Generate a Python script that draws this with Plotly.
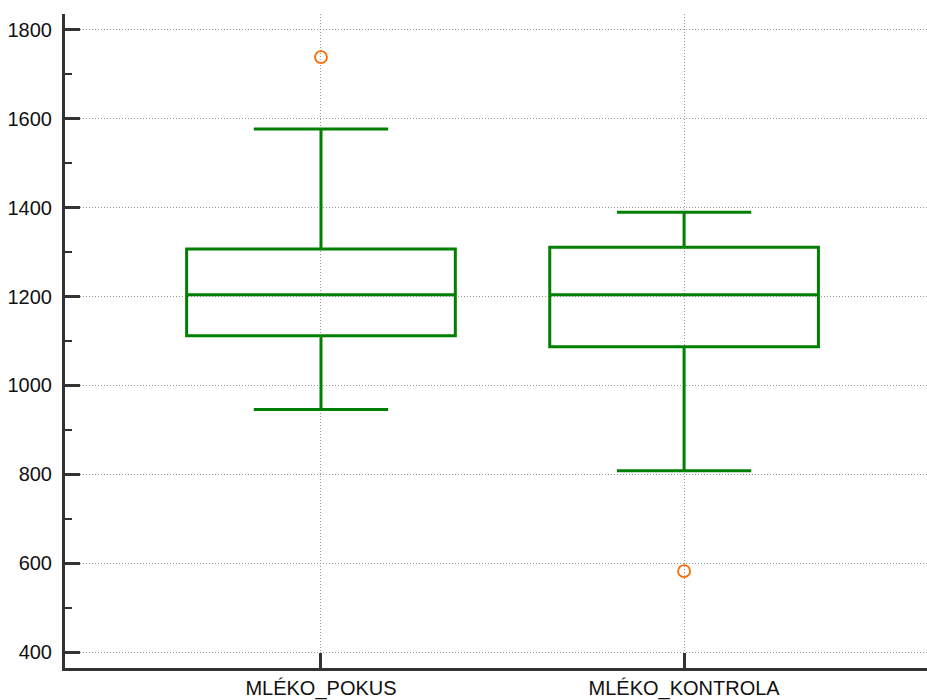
import plotly.graph_objects as go

categories = ["MLÉKO_POKUS", "MLÉKO_KONTROLA"]
q1 = [1112, 1087]
median = [1204, 1204]
q3 = [1307, 1311]
lower_whisker = [946, 808]
upper_whisker = [1577, 1390]
outlier_x = ["MLÉKO_POKUS", "MLÉKO_KONTROLA"]
outlier_y = [1739, 582]
y_ticks = [400, 600, 800, 1000, 1200, 1400, 1600, 1800]

fig = go.Figure()
fig.add_trace(go.Box(
    x=categories, q1=q1, median=median, q3=q3,
    lowerfence=lower_whisker, upperfence=upper_whisker,
    boxpoints=False, width=0.74, whiskerwidth=0.5,
    line=dict(color="#008000", width=3),
    fillcolor="rgba(0,0,0,0)", showlegend=False, hoverinfo="skip",
))
fig.add_trace(go.Scatter(
    x=outlier_x, y=outlier_y, mode="markers",
    marker=dict(symbol="circle-open", size=12, color="#ff6a00", line=dict(width=1.8)),
    showlegend=False,
))

axis_font = dict(family="Liberation Sans, Arial, sans-serif", size=20, color="#111")
fig.update_layout(
    width=927, height=700,
    margin=dict(l=65, r=0, t=14, b=30),
    plot_bgcolor="white", paper_bgcolor="white",
    font=axis_font,
    xaxis=dict(
        type="category", range=[-0.705, 1.669],
        showline=True, linecolor="#333", linewidth=3,
        ticks="inside", ticklen=15, tickwidth=3, tickcolor="#333",
        showgrid=True, gridcolor="#999", griddash="1px,2px", gridwidth=1,
        zeroline=False, tickfont=axis_font, ticklabelstandoff=0,
    ),
    yaxis=dict(
        range=[364, 1836], tickvals=y_ticks,
        showline=True, linecolor="#333", linewidth=3,
        ticks="inside", ticklen=15, tickwidth=3, tickcolor="#333",
        minor=dict(dtick=100, ticks="inside", ticklen=7, tickwidth=2, tickcolor="#333", showgrid=False),
        showgrid=True, gridcolor="#999", griddash="1px,2px", gridwidth=1,
        zeroline=False, tickfont=axis_font, ticklabelstandoff=6,
    ),
)
fig.write_html("out.html", config={"displayModeBar": False},
               post_script="document.body.style.margin='0';")
